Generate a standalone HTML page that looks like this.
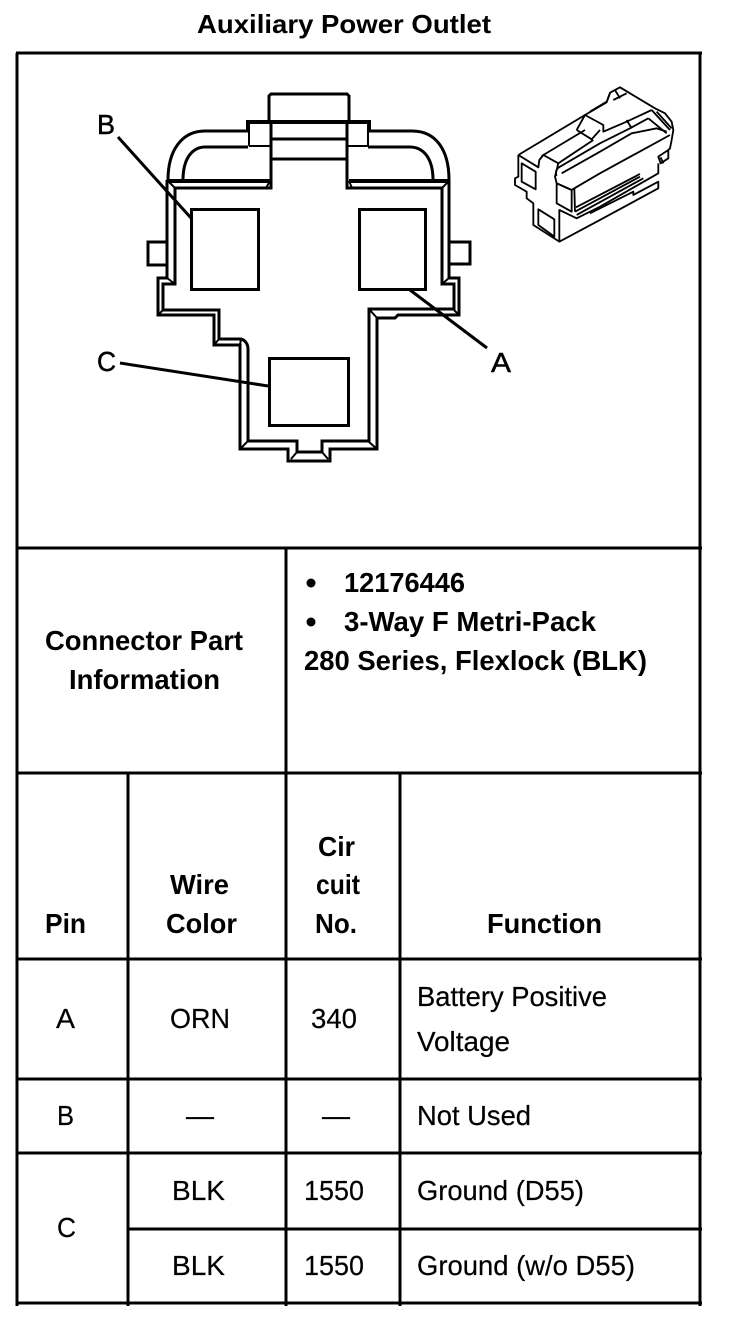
<!DOCTYPE html>
<html><head><meta charset="utf-8"><style>
html,body{margin:0;padding:0;background:#fff}
svg{display:block}
text{font-family:"Liberation Sans",sans-serif;fill:#000}
.b{font-weight:bold;font-size:28px}
.r{font-size:28px;stroke:#000;stroke-width:.2}
.l{font-size:28px;stroke:#000;stroke-width:.5}
.t line{stroke:#000;stroke-width:3}
.d path,.d rect{fill:none;stroke:#000;stroke-width:3;stroke-linejoin:miter}
.d .n{stroke-width:2}
.i path{fill:none;stroke:#000;stroke-width:5.5;stroke-linejoin:round}
</style></head><body>
<svg width="736" height="1320" viewBox="0 0 736 1320" xmlns="http://www.w3.org/2000/svg">
<rect width="736" height="1320" fill="#fff"/>
<g class="t" shape-rendering="crispEdges">
<line x1="17" y1="53" x2="17" y2="1306"/><line x1="700" y1="53" x2="700" y2="1306"/>
<line x1="16" y1="53" x2="702" y2="53"/><line x1="16" y1="548" x2="702" y2="548"/>
<line x1="16" y1="773" x2="702" y2="773"/><line x1="16" y1="959" x2="702" y2="959"/>
<line x1="16" y1="1079" x2="702" y2="1079"/><line x1="16" y1="1153" x2="702" y2="1153"/>
<line x1="128" y1="1229" x2="702" y2="1229"/><line x1="16" y1="1303" x2="702" y2="1303"/>
<line x1="286" y1="548" x2="286" y2="1306"/><line x1="128" y1="773" x2="128" y2="1306"/><line x1="400" y1="773" x2="400" y2="1306"/>
</g>
<text class="b" x="197" y="33" style="font-size:26px" textLength="294" lengthAdjust="spacingAndGlyphs">Auxiliary Power Outlet</text>

<g class="d">
<!-- top block -->
<path d="M269 122V96l2-2h76l2 2v26"/>
<path d="M248 131V122H369V131" style="stroke-width:4"/>
<path d="M272 139H346M272 159H346"/>
<path d="M249 146V124M368 146V124" class="n"/>
<path d="M249 146H270M348 146H368" class="n"/>
<!-- arches -->
<path d="M248 131H205C182 131 168 150 168 180"/>
<path d="M368 131H412C436 131 449 150 449 180"/>
<path d="M248 147H204C191 148 183 160 183 180"/>
<path d="M368 147H411C425 148 433 160 433 180"/>
<!-- shoulder -->
<path d="M168 181H270" style="stroke-width:4"/>
<path d="M349 181H449" style="stroke-width:4"/>
<path d="M175 188H271V122"/>
<path d="M442 188H347V122"/>
<path class="n" d="M168 181L175 188M449 181L442 188M270 181L266 188M349 181L352 188"/>
<!-- outer walls -->
<path d="M167 180V278H158V315H214V345H240V449H288V461H330V449H377V318H395L398 315H459V278H449V180"/>
<!-- inner walls -->
<path d="M175 188V284H163V310H219V339H241C245 340 248 344 248 349V441H297V452H322V441H369V309H454V284H442V188"/>
<path class="n" d="M240 449L247 442M377 449L369 442M369 309L377 318M297 452L291 459M322 452L328 459M167 278L175 284M449 278L442 284M158 315L163 310M459 315L454 310M214 345L219 339M241 339L240 345"/>
<!-- side tabs -->
<path d="M167 242H148V265H167"/>
<path d="M449 242H470V264H449"/>
<!-- pin rects -->
<rect x="191.500" y="209.500" width="67" height="80"/>
<rect x="359.500" y="209.500" width="66" height="80"/>
<rect x="269.500" y="358.500" width="79" height="67"/>
<!-- leaders -->
<path d="M118 137L191 218"/>
<path d="M410 290L487 348"/>
<path d="M120 363L268 386"/>
</g>
<text class="l" x="97" y="134" textLength="18" lengthAdjust="spacingAndGlyphs">B</text>
<text class="l" x="491" y="372" textLength="20" lengthAdjust="spacingAndGlyphs">A</text>
<text class="l" x="97" y="371" textLength="19" lengthAdjust="spacingAndGlyphs">C</text>

<!-- isometric connector -->
<g class="i" transform="translate(500 70) scale(.3333)">
<!-- outline -->
<path d="M55 255L255 135L320 97L330 68L360 52L390 70L465 115L495 130L515 155L520 180L515 210L510 235L505 240"/>
<path d="M55 255V320L45 325V345L80 365V385L100 400V465L178 515L300 450L475 355V335L400 375V365L270 430"/>
<path d="M178 515V420L230 445L300 410L475 310V280"/>
<!-- front top -->
<path d="M55 255L115 292L118 270L130 255L175 280L165 320L170 340L215 360L223 355L300 310L510 195"/>
<path d="M125 258L255 180M175 280L280 210"/>
<path d="M230 180L275 208L300 180M230 180L255 135L310 165L310 185L380 155L455 120"/>
<path d="M270 125L320 95L330 70M340 90L380 70M345 60L360 85"/>
<path d="M180 290L300 220L390 175L445 145M185 310L300 245L395 190L470 175L500 185M180 290C168 296 165 310 170 318"/>
<path d="M380 150L395 175M455 120L510 180M445 145L500 190M470 125L515 175"/>
<!-- windows -->
<path d="M65 280L107 305V358L65 335ZM170 340L215 360V425L170 400ZM115 418L163 448V500L115 465Z"/>
<path d="M223 355L225 425"/>
<!-- band -->
<path d="M225 425L420 320M230 435L430 325M228 412L420 312" />
<!-- end block -->
<path d="M475 260L505 240V265L482 280ZM482 262L490 280"/>
</g>

<!-- part info -->
<text class="b" x="45" y="650" textLength="198" lengthAdjust="spacingAndGlyphs">Connector Part</text>
<text class="b" x="69" y="689" textLength="151" lengthAdjust="spacingAndGlyphs">Information</text>
<circle cx="311" cy="583" r="4.500"/><circle cx="311" cy="622" r="4.500"/>
<text class="b" x="344" y="592" textLength="121" lengthAdjust="spacingAndGlyphs">12176446</text>
<text class="b" x="344" y="631" textLength="252" lengthAdjust="spacingAndGlyphs">3-Way F Metri-Pack</text>
<text class="b" x="304" y="670" textLength="343" lengthAdjust="spacingAndGlyphs">280 Series, Flexlock (BLK)</text>

<!-- header -->
<text class="b" x="45" y="933" textLength="41" lengthAdjust="spacingAndGlyphs">Pin</text>
<text class="b" x="170" y="894" textLength="59" lengthAdjust="spacingAndGlyphs">Wire</text>
<text class="b" x="166" y="933" textLength="71" lengthAdjust="spacingAndGlyphs">Color</text>
<text class="b" x="318" y="856" textLength="37" lengthAdjust="spacingAndGlyphs">Cir</text>
<text class="b" x="316" y="894" textLength="44" lengthAdjust="spacingAndGlyphs">cuit</text>
<text class="b" x="315" y="933" textLength="42" lengthAdjust="spacingAndGlyphs">No.</text>
<text class="b" x="487" y="933" textLength="115" lengthAdjust="spacingAndGlyphs">Function</text>

<!-- rows -->
<text class="r" x="56" y="1028" textLength="19" lengthAdjust="spacingAndGlyphs">A</text>
<text class="r" x="170" y="1028" textLength="60" lengthAdjust="spacingAndGlyphs">ORN</text>
<text class="r" x="311" y="1028" textLength="46" lengthAdjust="spacingAndGlyphs">340</text>
<text class="r" x="417" y="1006" textLength="190" lengthAdjust="spacingAndGlyphs">Battery Positive</text>
<text class="r" x="417" y="1051" textLength="93" lengthAdjust="spacingAndGlyphs">Voltage</text>
<text class="r" x="57" y="1125" textLength="17" lengthAdjust="spacingAndGlyphs">B</text>
<text class="r" x="186" y="1125" textLength="28" lengthAdjust="spacingAndGlyphs">—</text>
<text class="r" x="322" y="1125" textLength="28" lengthAdjust="spacingAndGlyphs">—</text>
<text class="r" x="417" y="1125" textLength="114" lengthAdjust="spacingAndGlyphs">Not Used</text>
<text class="r" x="57" y="1237" textLength="19" lengthAdjust="spacingAndGlyphs">C</text>
<text class="r" x="172" y="1200" textLength="53" lengthAdjust="spacingAndGlyphs">BLK</text>
<text class="r" x="304" y="1200" textLength="60" lengthAdjust="spacingAndGlyphs">1550</text>
<text class="r" x="417" y="1200" textLength="167" lengthAdjust="spacingAndGlyphs">Ground (D55)</text>
<text class="r" x="172" y="1275" textLength="53" lengthAdjust="spacingAndGlyphs">BLK</text>
<text class="r" x="304" y="1275" textLength="60" lengthAdjust="spacingAndGlyphs">1550</text>
<text class="r" x="417" y="1275" textLength="218" lengthAdjust="spacingAndGlyphs">Ground (w/o D55)</text>
</svg>
</body></html>
